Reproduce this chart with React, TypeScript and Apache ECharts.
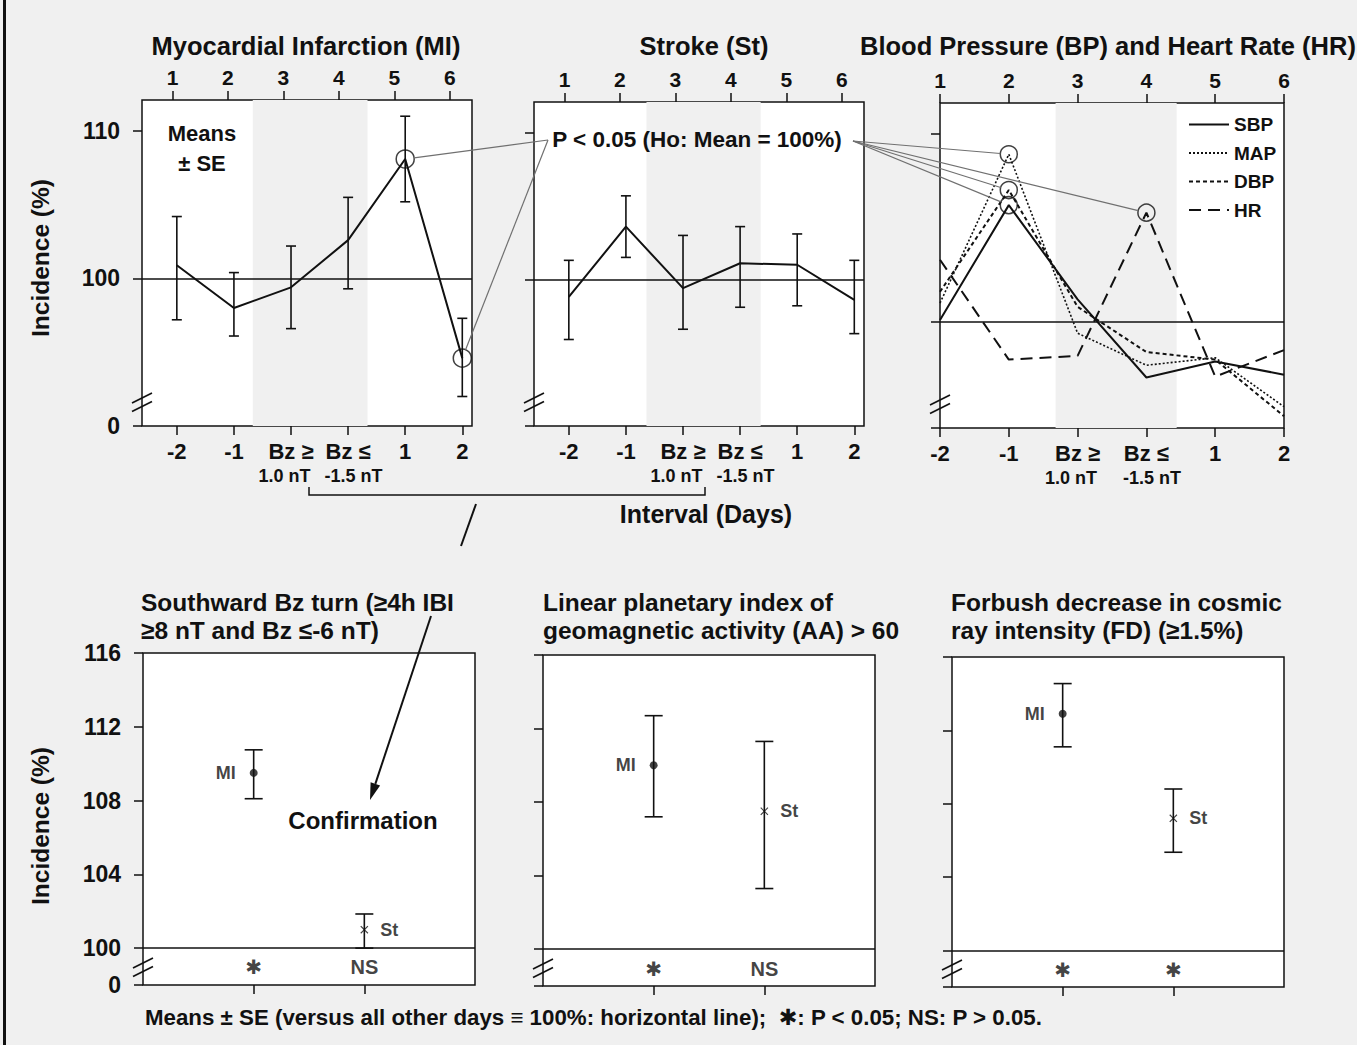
import React, { useEffect, useRef } from "react";
import * as echarts from "echarts";

// ---------------- data ----------------
const intervalCategories = ["-2", "-1", "Bz ≥\n1.0 nT", "Bz ≤\n-1.5 nT", "1", "2"];
const dayNumbers = ["1", "2", "3", "4", "5", "6"];
const intervalPositions = [1, 2, 3, 4, 5, 6];

const miMean = [100.9, 98.0, 99.4, 102.6, 108.1, 94.6];
const miUpper = [104.2, 100.4, 102.2, 105.5, 111.0, 97.3];
const miLower = [97.2, 96.1, 96.6, 99.3, 105.2, 92.0];
const miSignificant = [4, 5];

const stMean = [98.8, 103.6, 99.4, 101.1, 101.0, 98.6];
const stUpper = [101.3, 105.7, 103.0, 103.6, 103.1, 101.3];
const stLower = [95.9, 101.5, 96.6, 98.1, 98.2, 96.3];

const bpNames = ["SBP", "MAP", "DBP", "HR"];
const sbpValues = [100.1, 106.2, 101.2, 97.05, 97.9, 97.2];
const mapValues = [101.0, 108.9, 99.4, 97.7, 98.1, 95.5];
const dbpValues = [101.6, 107.0, 100.8, 98.4, 98.0, 95.0];
const hrValues = [103.3, 98.0, 98.2, 105.8, 97.1, 98.5];
// [series index in bpNames, point index]
const bpSignificant = [[1, 1], [2, 1], [0, 1], [3, 3]];

const groupNames = ["MI", "St"];
const bzMean = [109.5, 101.0];
const bzUpper = [110.75, 101.85];
const bzLower = [108.1, 100.0];
const bzSig = ["✱", "NS"];

const aaMean = [110.0, 107.5];
const aaUpper = [112.7, 111.3];
const aaLower = [107.2, 103.3];
const aaSig = ["✱", "NS"];

const fdMean = [112.9, 107.2];
const fdUpper = [114.55, 108.8];
const fdLower = [111.1, 105.35];
const fdSig = ["✱", "✱"];

const topTicks = [90, 100, 110];
const bpTicks = [94.37, 100, 110];
const bottomTicks = [98, 100, 104, 108, 112, 116];
const groupPositions = [1, 2];

// ---------------- layout / style ----------------
const BG = "#f0f0f0";
const INK = "#111111";
const FONT = "'Liberation Sans', Arial, Helvetica, 'DejaVu Sans', sans-serif";

const GRIDS = [
  { left: 142, top: 100, width: 330, height: 326 },
  { left: 534, top: 102, width: 330, height: 324 },
  { left: 940, top: 103, width: 344, height: 325 },
  { left: 143, top: 653, width: 332, height: 332 },
  { left: 543, top: 655, width: 332, height: 331 },
  { left: 952, top: 657, width: 332, height: 330 },
];
const X_BOTTOM_RANGE = [[0.39, 6.17], [0.39, 6.17], [1, 6]];
const X_TOP_RANGE = [[0.45, 6.4], [0.45, 6.4], [1, 6]];
const BANDS = [[2.33, 4.34], [2.36, 4.36], [2.68, 4.44]];
const SIG_Y = 98.95;

const txt = (size: number, weight: string = "bold") => ({
  fontFamily: FONT,
  fontSize: size,
  fontWeight: weight,
  color: INK,
});
const tick = (values: number[]) => ({
  show: true,
  inside: false,
  length: 9,
  customValues: values,
  lineStyle: { color: INK, width: 1.5 },
});

const catFormatter = (v: number) => {
  const idx = Math.round(v) - 1;
  const s = intervalCategories[idx];
  if (!s) return "";
  const [a, b] = s.split("\n");
  if (!b) return `{a|${a}}`;
  const style = idx === 2 ? "bl" : "br";
  return `{a|${a}}\n{${style}|${b}}`;
};

const errorRenderer = (cap: number) => (params: any, api: any) => {
  const x = api.value(0);
  const lo = api.coord([x, api.value(1)]);
  const hi = api.coord([x, api.value(2)]);
  const st = { stroke: INK, lineWidth: 1.6 };
  return {
    type: "group",
    children: [
      { type: "line", shape: { x1: lo[0], y1: lo[1], x2: hi[0], y2: hi[1] }, style: st },
      { type: "line", shape: { x1: lo[0] - cap, y1: lo[1], x2: lo[0] + cap, y2: lo[1] }, style: st },
      { type: "line", shape: { x1: hi[0] - cap, y1: hi[1], x2: hi[0] + cap, y2: hi[1] }, style: st },
    ],
  };
};

const refLine = {
  silent: true,
  symbol: ["none", "none"],
  label: { show: false },
  lineStyle: { color: INK, width: 1.5, type: "solid" },
  data: [{ yAxis: 100 }],
};
const band = (g: number) => ({
  silent: true,
  itemStyle: { color: BG },
  data: [[{ xAxis: BANDS[g][0] }, { xAxis: BANDS[g][1] }]],
});

const X_MARK = "path://M0,1 L1,0 L5,4 L9,0 L10,1 L6,5 L10,9 L9,10 L5,6 L1,10 L0,9 L4,5 Z";

function buildOption() {
  const grid = GRIDS.map((r) => ({
    ...r,
    show: true,
    backgroundColor: "#ffffff",
    borderColor: INK,
    borderWidth: 1.5,
    containLabel: false,
  }));

  const xAxis: any[] = [];
  for (let g = 0; g < 3; g++) {
    xAxis.push({
      type: "value",
      gridIndex: g,
      position: "bottom",
      min: X_BOTTOM_RANGE[g][0],
      max: X_BOTTOM_RANGE[g][1],
      axisLine: { show: false },
      splitLine: { show: false },
      axisTick: tick(intervalPositions),
      axisLabel: {
        show: true,
        customValues: intervalPositions,
        margin: 13,
        showMinLabel: true,
        showMaxLabel: true,
        formatter: catFormatter,
        rich: {
          a: { ...txt(22), lineHeight: 25 },
          bl: { ...txt(18), lineHeight: 24, padding: [0, 13, 0, 0] },
          br: { ...txt(18), lineHeight: 24, padding: [0, 0, 0, 11] },
        },
      },
    });
    xAxis.push({
      type: "value",
      gridIndex: g,
      position: "top",
      min: X_TOP_RANGE[g][0],
      max: X_TOP_RANGE[g][1],
      axisLine: { show: false },
      splitLine: { show: false },
      axisTick: tick(intervalPositions),
      axisLabel: {
        show: true,
        customValues: intervalPositions,
        margin: 12,
        showMinLabel: true,
        showMaxLabel: true,
        formatter: (v: number) => dayNumbers[Math.round(v) - 1] ?? "",
        ...txt(21),
      },
    });
  }
  for (let g = 3; g < 6; g++) {
    xAxis.push({
      type: "value",
      gridIndex: g,
      position: "bottom",
      min: 0,
      max: 3,
      axisLine: { show: false },
      splitLine: { show: false },
      axisTick: tick(groupPositions),
      axisLabel: { show: false },
    });
  }

  const yAxis: any[] = [];
  for (let g = 0; g < 6; g++) {
    const isTop = g < 3;
    const ticks = g === 2 ? bpTicks : isTop ? topTicks : bottomTicks;
    const min = ticks[0];
    const max = g === 2 ? 111.62 : isTop ? 112.1 : 116;
    yAxis.push({
      type: "value",
      gridIndex: g,
      min,
      max,
      axisLine: { show: false },
      splitLine: { show: false },
      axisTick: tick(ticks),
      axisLabel: {
        show: g === 0 || g === 3,
        customValues: ticks,
        margin: 22,
        showMinLabel: true,
        showMaxLabel: true,
        formatter: (v: number) => (Math.abs(v - min) < 0.01 ? "0" : String(Math.round(v))),
        ...txt(23),
      },
    });
  }

  const xb = (g: number) => (g < 3 ? 2 * g : 6 + (g - 3));
  const series: any[] = [];

  // s0..s2 : Myocardial infarction
  series.push({
    type: "line",
    name: "MI by interval",
    xAxisIndex: xb(0),
    yAxisIndex: 0,
    data: intervalPositions.map((x, i) => [x, miMean[i]]),
    symbol: "none",
    lineStyle: { color: INK, width: 2 },
    markArea: band(0),
    markLine: refLine,
  });
  series.push({
    type: "custom",
    xAxisIndex: xb(0),
    yAxisIndex: 0,
    data: intervalPositions.map((x, i) => [x, miLower[i], miUpper[i]]),
    encode: { x: 0, y: [1, 2] },
    renderItem: errorRenderer(5),
    silent: true,
  });
  series.push({
    type: "scatter",
    xAxisIndex: xb(0),
    yAxisIndex: 0,
    data: miSignificant.map((i) => [intervalPositions[i], miMean[i]]),
    symbol: "circle",
    symbolSize: 18,
    itemStyle: { color: "rgba(0,0,0,0)", borderColor: INK, borderWidth: 1.5 },
    silent: true,
  });

  // s3..s4 : Stroke
  series.push({
    type: "line",
    name: "St by interval",
    xAxisIndex: xb(1),
    yAxisIndex: 1,
    data: intervalPositions.map((x, i) => [x, stMean[i]]),
    symbol: "none",
    lineStyle: { color: INK, width: 2 },
    markArea: band(1),
    markLine: refLine,
  });
  series.push({
    type: "custom",
    xAxisIndex: xb(1),
    yAxisIndex: 1,
    data: intervalPositions.map((x, i) => [x, stLower[i], stUpper[i]]),
    encode: { x: 0, y: [1, 2] },
    renderItem: errorRenderer(5),
    silent: true,
  });

  // s5..s8 : BP / HR
  const bpValues = [sbpValues, mapValues, dbpValues, hrValues];
  const bpStyles = [
    { type: "solid", width: 2 },
    { type: [2, 2], width: 1.6 },
    { type: [4, 3], width: 2 },
    { type: [12, 7], width: 2 },
  ];
  bpNames.forEach((name, k) => {
    series.push({
      type: "line",
      name,
      xAxisIndex: xb(2),
      yAxisIndex: 2,
      data: intervalPositions.map((x, i) => [x, bpValues[k][i]]),
      symbol: "none",
      color: INK,
      lineStyle: { color: INK, width: bpStyles[k].width, type: bpStyles[k].type },
      ...(k === 0 ? { markArea: band(2), markLine: refLine } : {}),
    });
  });
  // s9 : significant circles in BP panel
  series.push({
    type: "scatter",
    xAxisIndex: xb(2),
    yAxisIndex: 2,
    data: bpSignificant.map(([k, i]) => [intervalPositions[i], bpValues[k][i]]),
    symbol: "circle",
    symbolSize: 17,
    itemStyle: { color: "rgba(0,0,0,0)", borderColor: INK, borderWidth: 1.5 },
    silent: true,
  });

  // bottom panels
  const bottomSets = [
    { mean: bzMean, upper: bzUpper, lower: bzLower, sig: bzSig },
    { mean: aaMean, upper: aaUpper, lower: aaLower, sig: aaSig },
    { mean: fdMean, upper: fdUpper, lower: fdLower, sig: fdSig },
  ];
  bottomSets.forEach((set, j) => {
    const g = 3 + j;
    series.push({
      type: "custom",
      xAxisIndex: xb(g),
      yAxisIndex: g,
      data: groupPositions.map((x, i) => [x, set.lower[i], set.upper[i]]),
      encode: { x: 0, y: [1, 2] },
      renderItem: errorRenderer(9),
      silent: true,
      markLine: refLine,
    });
    series.push({
      type: "scatter",
      xAxisIndex: xb(g),
      yAxisIndex: g,
      data: [[groupPositions[0], set.mean[0]]],
      symbol: "circle",
      symbolSize: 8,
      itemStyle: { color: INK },
      label: {
        show: true,
        position: "left",
        distance: 14,
        formatter: groupNames[0],
        ...txt(18),
      },
      silent: true,
    });
    series.push({
      type: "scatter",
      xAxisIndex: xb(g),
      yAxisIndex: g,
      data: [[groupPositions[1], set.mean[1]]],
      symbol: X_MARK,
      symbolSize: 8,
      itemStyle: { color: INK },
      label: {
        show: true,
        position: "right",
        distance: 12,
        formatter: groupNames[1],
        ...txt(18),
      },
      silent: true,
    });
    series.push({
      type: "scatter",
      xAxisIndex: xb(g),
      yAxisIndex: g,
      data: groupPositions.map((x) => [x, SIG_Y]),
      symbol: "circle",
      symbolSize: 1,
      itemStyle: { color: "rgba(0,0,0,0)" },
      label: {
        show: true,
        position: "inside",
        formatter: (p: any) => set.sig[p.dataIndex],
        ...txt(20),
      },
      silent: true,
    });
  });

  return {
    animation: false,
    backgroundColor: BG,
    textStyle: { fontFamily: FONT },
    grid,
    xAxis,
    yAxis,
    legend: {
      show: true,
      data: bpNames,
      orient: "vertical",
      left: 1188,
      top: 115,
      padding: 0,
      itemWidth: 40,
      itemHeight: 20,
      itemGap: 9.5,
      selectedMode: false,
      itemStyle: { opacity: 0, borderWidth: 0 },
      textStyle: txt(19),
    },
    series,
  };
}

export default function App() {
  const ref = useRef<HTMLDivElement>(null);

  useEffect(() => {
    if (!ref.current) return;
    const chart = echarts.init(ref.current, null, { renderer: "svg" });
    chart.setOption(buildOption() as any);

    const px = (si: number, pt: number[]) => chart.convertToPixel({ seriesIndex: si }, pt) as number[];
    const edge = (c: number[], a: number[], r: number) => {
      const dx = a[0] - c[0];
      const dy = a[1] - c[1];
      const d = Math.hypot(dx, dy) || 1;
      return [c[0] + (dx / d) * r, c[1] + (dy / d) * r];
    };

    const els: any[] = [];
    const T = (text: string, x: number, y: number, size: number, o: any = {}) =>
      els.push({
        type: "text",
        x,
        y,
        z: 100,
        silent: true,
        rotation: o.rotation ?? 0,
        style: {
          text,
          fill: INK,
          fontFamily: FONT,
          fontSize: size,
          fontWeight: o.weight ?? "bold",
          align: o.align ?? "center",
          verticalAlign: "middle",
          lineHeight: o.lineHeight ?? size * 1.15,
        },
      });
    const L = (x1: number, y1: number, x2: number, y2: number, stroke = INK, w = 1.5) =>
      els.push({ type: "line", z: 100, silent: true, shape: { x1, y1, x2, y2 }, style: { stroke, lineWidth: w } });

    // left page frame
    els.push({ type: "rect", z: 100, silent: true, shape: { x: 3, y: 0, width: 3, height: 1045 }, style: { fill: INK } });

    // titles
    T("Myocardial Infarction (MI)", 306, 46, 25.5);
    T("Stroke (St)", 704, 46, 25.5);
    T("Blood Pressure (BP) and Heart Rate (HR)", 860, 46, 25.5, { align: "left" });
    T("Southward Bz turn (≥4h IBI\n≥8 nT and Bz ≤-6 nT)", 141, 616, 24.5, { align: "left", lineHeight: 28 });
    T("Linear planetary index of\ngeomagnetic activity (AA) > 60", 543, 616, 24.5, { align: "left", lineHeight: 28 });
    T("Forbush decrease in cosmic\nray intensity (FD) (≥1.5%)", 951, 616, 24.5, { align: "left", lineHeight: 28 });

    // axis names
    T("Incidence (%)", 40, 258, 24.5, { rotation: Math.PI / 2 });
    T("Incidence (%)", 40, 826, 24.5, { rotation: Math.PI / 2 });

    // in-panel notes
    T("Means\n± SE", 202, 148, 22, { lineHeight: 30 });
    T("P < 0.05 (Ho: Mean = 100%)", 697, 139, 22.5);
    T("Confirmation", 363, 820, 24);
    T("Interval (Days)", 706, 514, 25);
    T("Means ± SE (versus all other days ≡ 100%: horizontal line);  ✱: P < 0.05; NS: P > 0.05.", 145, 1017, 22.3, {
      align: "left",
    });

    // annotation lines from the P-value text to the significant points
    const leftAnchor = [548, 140];
    const rightAnchor = [853, 141];
    miSignificant.forEach((i) => {
      const c = px(2, [intervalPositions[i], miMean[i]]);
      const e = edge(c, leftAnchor, 9);
      L(e[0], e[1], leftAnchor[0], leftAnchor[1], "#707070", 1.2);
    });
    const bpVals = [sbpValues, mapValues, dbpValues, hrValues];
    bpSignificant.forEach(([k, i]) => {
      const c = px(9, [intervalPositions[i], bpVals[k][i]]);
      const e = edge(c, rightAnchor, 8.5);
      L(rightAnchor[0], rightAnchor[1], e[0], e[1], "#707070", 1.2);
    });

    // bracket under the first two panels and connector
    els.push({
      type: "polyline",
      z: 100,
      silent: true,
      shape: { points: [[309, 487], [309, 495], [705, 495], [705, 487]] },
      style: { stroke: INK, lineWidth: 1.5, fill: "none" },
    });
    L(476, 504, 461, 546, INK, 2);

    // arrow to "Confirmation"
    const a0 = [431, 616];
    const a1 = [370, 800];
    const dx = a1[0] - a0[0];
    const dy = a1[1] - a0[1];
    const d = Math.hypot(dx, dy);
    const ux = dx / d;
    const uy = dy / d;
    const hl = 17;
    const hw = 5;
    const base = [a1[0] - ux * hl, a1[1] - uy * hl];
    L(a0[0], a0[1], base[0], base[1], INK, 2);
    els.push({
      type: "polygon",
      z: 100,
      silent: true,
      shape: {
        points: [
          a1,
          [base[0] - uy * hw, base[1] + ux * hw],
          [base[0] + uy * hw, base[1] - ux * hw],
        ],
      },
      style: { fill: INK },
    });

    // axis break marks
    GRIDS.forEach((r, g) => {
      const bottom = r.top + r.height;
      const offs = g < 3 ? [28, 19.5] : [22, 13.5];
      offs.forEach((o) => {
        const cy = bottom - o;
        L(r.left - 10, cy + 5, r.left + 10, cy - 5, INK, 1.6);
      });
    });

    chart.setOption({ graphic: { elements: els } } as any);

    return () => chart.dispose();
  }, []);

  return (
    <div
      ref={ref}
      style={{ position: "absolute", left: 0, top: 0, width: 1357, height: 1045, background: BG }}
    />
  );
}
